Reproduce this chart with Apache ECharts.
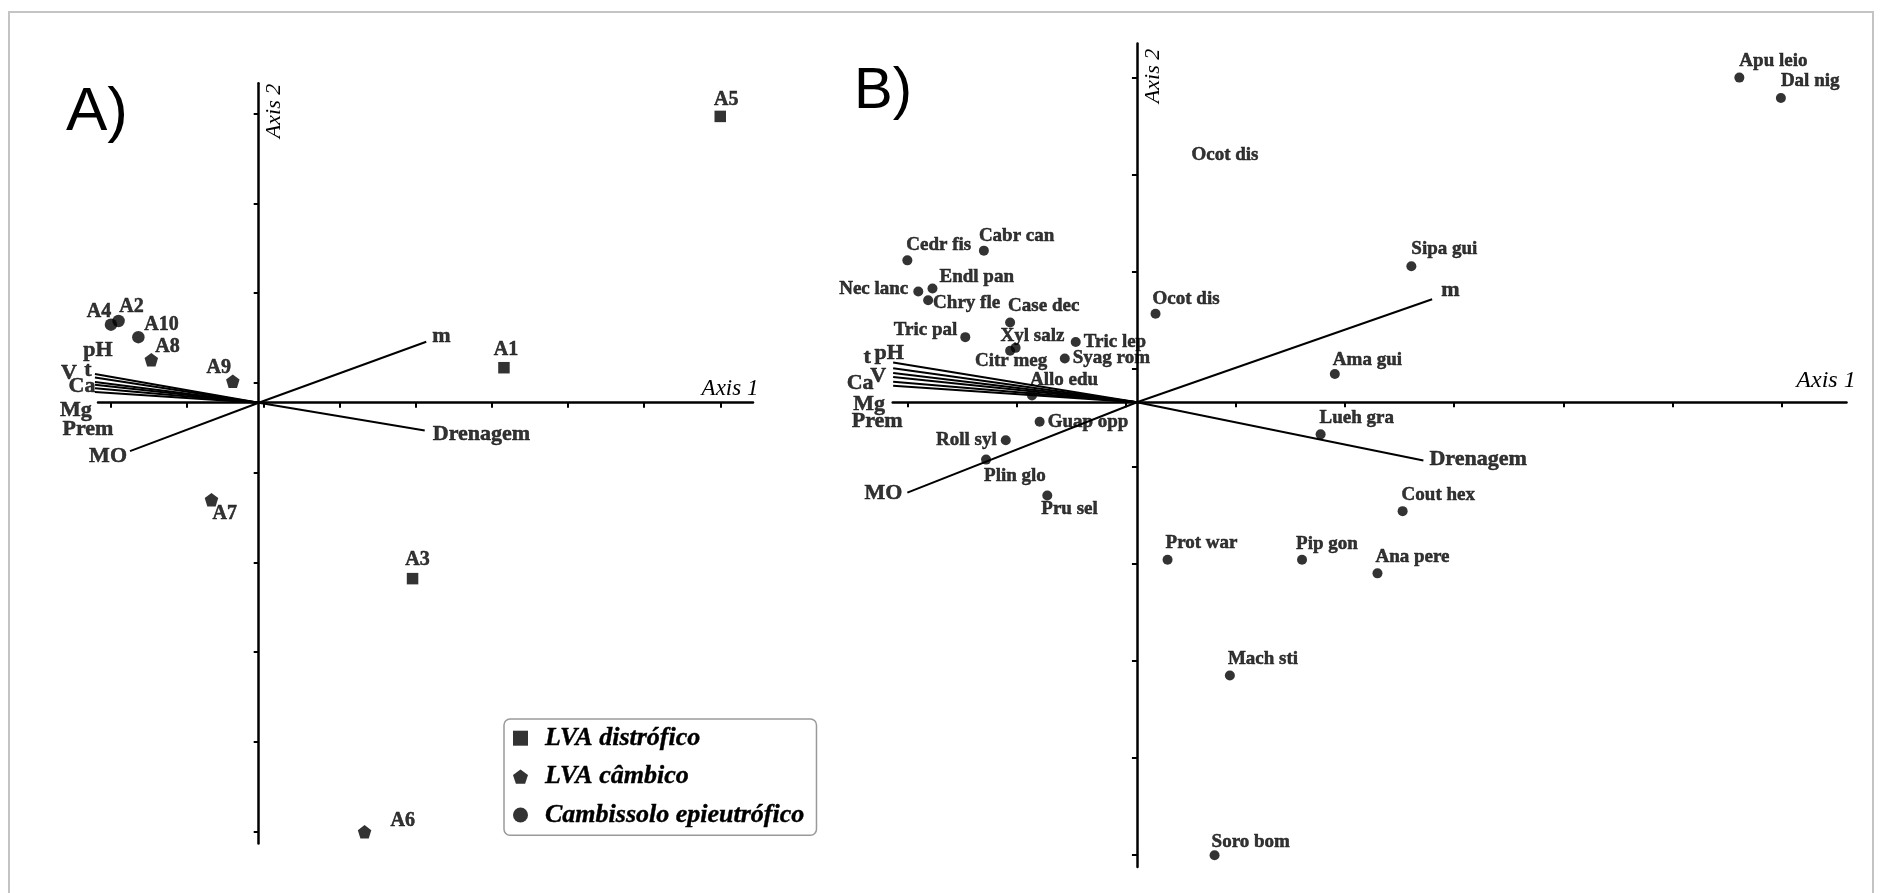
<!DOCTYPE html>
<html>
<head>
<meta charset="utf-8">
<script src="https://cdn.jsdelivr.net/npm/echarts@6/dist/echarts.min.js"></script>
<style>html,body{margin:0;padding:0;background:#fff}#c{width:1883px;height:893px}</style>
</head>
<body>
<div id="c"></div>
<script>
// ---------------- DATA ----------------
// Panel A: sample scores [name, Axis 1, Axis 2]
const samplesLVAdistrofico = [['A5', 6.06, 3.19], ['A1', 3.22, 0.39], ['A3', 2.02, -1.96]];
const samplesLVAcambico = [['A8', -1.41, 0.48], ['A9', -0.34, 0.24], ['A7', -0.62, -1.08], ['A6', 1.39, -4.78]];
const samplesCambissolo = [['A4', -1.94, 0.87], ['A2', -1.84, 0.91], ['A10', -1.58, 0.73]];
// Panel A: environmental vectors (arrow tips)
const envVectorsA = [['pH', -2.15, 0.32], ['t', -2.15, 0.28], ['V', -2.15, 0.23], ['Ca', -2.15, 0.20],
  ['Mg', -2.15, 0.16], ['Prem', -2.15, 0.12], ['MO', -1.69, -0.54], ['m', 2.20, 0.68], ['Drenagem', 2.18, -0.31]];
// Panel B: species scores
const species = [['Apu leio', 5.51, 3.34], ['Dal nig', 5.89, 3.13], ['Sipa gui', 2.51, 1.40],
  ['Cedr fis', -2.10, 1.46], ['Cabr can', -1.40, 1.56], ['Endl pan', -1.87, 1.17], ['Nec lanc', -2.00, 1.14],
  ['Chry fle', -1.91, 1.05], ['Case dec', -1.16, 0.82], ['Tric pal', -1.57, 0.67], ['Xyl salz', -1.11, 0.56],
  ['Citr meg', -1.16, 0.53], ['Tric lep', -0.56, 0.62], ['Syag rom', -0.66, 0.45], ['Allo edu', -0.96, 0.07],
  ['Ocot dis', 0.17, 0.91], ['Ama gui', 1.81, 0.29], ['Lueh gra', 1.68, -0.33], ['Guap opp', -0.89, -0.20],
  ['Roll syl', -1.20, -0.39], ['Plin glo', -1.38, -0.59], ['Pru sel', -0.82, -0.96], ['Prot war', 0.28, -1.62],
  ['Pip gon', 1.51, -1.62], ['Ana pere', 2.20, -1.76], ['Cout hex', 2.43, -1.12], ['Mach sti', 0.85, -2.81],
  ['Soro bom', 0.71, -4.66]];
const speciesLabelOnly = [['Ocot dis', 0.805, 2.54]];
// Panel B: environmental vectors
const envVectorsB = [['pH', -2.23, 0.41], ['t', -2.23, 0.35], ['V', -2.23, 0.30], ['Ca', -2.23, 0.26],
  ['Mg', -2.23, 0.21], ['Prem', -2.23, 0.17], ['MO', -2.10, -0.93], ['m', 2.70, 1.06], ['Drenagem', 2.62, -0.60]];
// Tick positions (no tick labels are printed)
const ticksAx = [-1.94, -0.94, 0.06, 1.06, 2.06, 3.06, 4.06, 5.06, 6.06];
const ticksAy = [-4.78, -3.78, -2.78, -1.78, -0.78, 0.22, 1.22, 2.22, 3.22];
const ticksBx = [-2.1, -1.1, -0.1, 0.9, 1.9, 2.9, 3.9, 4.9, 5.9];
const ticksBy = [-4.66, -3.66, -2.66, -1.66, -0.66, 0.34, 1.34, 2.34, 3.34];
const legendNames = ['LVA distrófico', 'LVA câmbico', 'Cambissolo epieutrófico'];

// ---------------- STYLE / LAYOUT ----------------
const INK = '#000';
const SERIF = 'Liberation Serif';
const pentagon = 'path://M0,-10 L9.51,-3.09 L5.88,8.09 L-5.88,8.09 L-9.51,-3.09 Z';
// label placement [dx, dy, align]
const labA = { A5: [6, -17, 'center'], A1: [2, -18, 'center'], A4: [-12, -13, 'center'], A2: [13, -14, 'center'],
  A10: [6, -12, 'left'], A8: [4, -13, 'left'], A9: [-14, -13, 'center'], A7: [1, 14, 'left'],
  A3: [5, -19, 'center'], A6: [26, -11, 'left'] };
const vecLabA = { pH: [3, -24, 'center'], t: [-7, -7, 'center'], V: [-26, -9, 'center'], Ca: [-13, 2, 'center'],
  Mg: [-19, 22, 'center'], Prem: [-7, 37, 'center'], MO: [-3, 5, 'right'], m: [6, -5, 'left'], Drenagem: [8, 4, 'left'] };
const vecLabB = { pH: [-4, -9, 'center'], t: [-26, -11, 'center'], V: [-15, 3, 'center'], Ca: [-33, 6, 'center'],
  Mg: [-24, 22, 'center'], Prem: [-16, 36, 'center'], MO: [-5, 1, 'right'], m: [9, -9, 'left'], Drenagem: [6, -1, 'left'] };
const labB = { 'Apu leio': [0, -17, 'left'], 'Dal nig': [0, -17, 'left'], 'Sipa gui': [0, -17, 'left'],
  'Cedr fis': [-1, -15, 'left'], 'Cabr can': [-5, -15, 'left'], 'Endl pan': [7, -11, 'left'], 'Nec lanc': [-10, -2, 'right'],
  'Chry fle': [5, 3, 'left'], 'Case dec': [-2, -16, 'left'], 'Tric pal': [-8, -7, 'right'], 'Xyl salz': [-15, -12, 'left'],
  'Citr meg': [1, 10, 'center'], 'Tric lep': [8, 0, 'left'], 'Syag rom': [8, 0, 'left'], 'Allo edu': [-2, -15, 'left'],
  'Ocot dis': [-3, -15, 'left'], 'Ama gui': [-2, -14, 'left'], 'Lueh gra': [-1, -16, 'left'], 'Guap opp': [8, 0, 'left'],
  'Roll syl': [-9, 0, 'right'], 'Plin glo': [-2, 16, 'left'], 'Pru sel': [-6, 14, 'left'], 'Prot war': [-2, -17, 'left'],
  'Pip gon': [-6, -16, 'left'], 'Ana pere': [-2, -16, 'left'], 'Cout hex': [-1, -16, 'left'], 'Mach sti': [-2, -16, 'left'],
  'Soro bom': [-3, -13, 'left'] };

function pts(arr, labMap, size) {
  return arr.map(d => {
    const l = labMap[d[0]] || [0, 0, 'center'];
    return { name: d[0], value: [d[1], d[2]],
      label: { offset: [l[0], l[1]], align: l[2], fontSize: size } };
  });
}
function vecLines(arr) { return arr.map(d => ({ coords: [[0, 0], [d[1], d[2]]] })); }

const labelBase = { show: true, position: 'inside', formatter: '{b}', color: INK,
  fontFamily: SERIF, fontWeight: 'bold', verticalAlign: 'middle',
  textBorderColor: INK, textBorderWidth: 0.5 };

function axisX(grid, min, max, ticks) {
  return { type: 'value', gridIndex: grid, min: min, max: max,
    axisLine: { show: true, onZero: true, lineStyle: { color: INK, width: 2.5 } },
    axisTick: { show: true, customValues: ticks, length: 5, lineStyle: { color: INK, width: 2 } },
    axisLabel: { show: false }, splitLine: { show: false } };
}
const axisY = axisX;

const chart = echarts.init(document.getElementById('c'));
chart.setOption({
  animation: false,
  backgroundColor: '#fff',
  textStyle: { fontFamily: SERIF },
  grid: [
    { left: 98, top: 83.2, width: 655, height: 760.2, outerBoundsMode: 'none' },
    { left: 892.7, top: 43.6, width: 953.8, height: 823.3, outerBoundsMode: 'none' }
  ],
  xAxis: [axisX(0, -2.11, 6.49, ticksAx), axisX(1, -2.234, 6.49, ticksBx)],
  yAxis: [axisY(0, -4.91, 3.56, ticksAy), axisY(1, -4.78, 3.69, ticksBy)],
  legend: {
    left: 504, top: 719, orient: 'vertical', selectedMode: false,
    itemWidth: 15, itemHeight: 15, itemGap: 12, padding: [6, 12, 7, 9],
    borderColor: '#9a9a9a', borderWidth: 1.5, borderRadius: 6, backgroundColor: '#fff',
    textStyle: { fontFamily: SERIF, fontStyle: 'italic', fontWeight: 'bold', fontSize: 26, color: INK,
      lineHeight: 26, padding: [0, 0, 0, 12], textBorderColor: INK, textBorderWidth: 0.4 },
    data: [{ name: legendNames[0], icon: 'rect' }, { name: legendNames[1], icon: pentagon },
      { name: legendNames[2], icon: 'circle' }]
  },
  series: [
    { type: 'lines', coordinateSystem: 'cartesian2d', xAxisIndex: 0, yAxisIndex: 0, silent: true, z: 3, clip: false,
      lineStyle: { color: INK, width: 2, opacity: 1 }, data: vecLines(envVectorsA) },
    { type: 'scatter', xAxisIndex: 0, yAxisIndex: 0, symbolSize: 0, silent: true, z: 4, clip: false,
      label: Object.assign({}, labelBase, { fontSize: 22 }), data: pts(envVectorsA, vecLabA, 22) },
    { name: legendNames[0], type: 'scatter', xAxisIndex: 0, yAxisIndex: 0, symbol: 'rect', symbolSize: 11.5, z: 5,
      clip: false, itemStyle: { color: INK }, label: Object.assign({}, labelBase, { fontSize: 20 }),
      data: pts(samplesLVAdistrofico, labA, 20) },
    { name: legendNames[1], type: 'scatter', xAxisIndex: 0, yAxisIndex: 0, symbol: pentagon, symbolSize: 13.5, z: 5,
      clip: false, itemStyle: { color: INK }, label: Object.assign({}, labelBase, { fontSize: 20 }),
      data: pts(samplesLVAcambico, labA, 20) },
    { name: legendNames[2], type: 'scatter', xAxisIndex: 0, yAxisIndex: 0, symbol: 'circle', symbolSize: 12.5, z: 5,
      clip: false, itemStyle: { color: INK }, label: Object.assign({}, labelBase, { fontSize: 20 }),
      data: pts(samplesCambissolo, labA, 20) },
    { type: 'lines', coordinateSystem: 'cartesian2d', xAxisIndex: 1, yAxisIndex: 1, silent: true, z: 3, clip: false,
      lineStyle: { color: INK, width: 2, opacity: 1 }, data: vecLines(envVectorsB) },
    { type: 'scatter', xAxisIndex: 1, yAxisIndex: 1, symbolSize: 0, silent: true, z: 4, clip: false,
      label: Object.assign({}, labelBase, { fontSize: 22 }), data: pts(envVectorsB, vecLabB, 22) },
    { type: 'scatter', xAxisIndex: 1, yAxisIndex: 1, symbol: 'circle', symbolSize: 10, z: 5, clip: false,
      itemStyle: { color: INK }, label: Object.assign({}, labelBase, { fontSize: 19 }),
      data: pts(species, labB, 19) },
    { type: 'scatter', xAxisIndex: 1, yAxisIndex: 1, symbolSize: 0, z: 5, clip: false,
      label: Object.assign({}, labelBase, { fontSize: 19 }), data: pts(speciesLabelOnly, {}, 19) }
  ],
  graphic: [
    { type: 'rect', shape: { x: 9, y: 12, width: 1864, height: 900 }, silent: true, z: -10,
      style: { fill: 'none', stroke: '#c4c4c4', lineWidth: 2 } },
    { type: 'text', x: 66, y: 113, style: { text: 'A)', fontFamily: 'Liberation Sans', fontSize: 62,
      fill: INK, align: 'left', verticalAlign: 'middle' } },
    { type: 'text', x: 854, y: 92, style: { text: 'B)', fontFamily: 'Liberation Sans', fontSize: 58,
      fill: INK, align: 'left', verticalAlign: 'middle' } },
    { type: 'text', x: 274, y: 111, rotation: Math.PI / 2, style: { text: 'Axis 2', fontFamily: SERIF,
      fontStyle: 'italic', fontSize: 22, fill: INK, align: 'center', verticalAlign: 'middle' } },
    { type: 'text', x: 1153, y: 76, rotation: Math.PI / 2, style: { text: 'Axis 2', fontFamily: SERIF,
      fontStyle: 'italic', fontSize: 22, fill: INK, align: 'center', verticalAlign: 'middle' } },
    { type: 'text', x: 730, y: 389, style: { text: 'Axis 1', fontFamily: SERIF,
      fontStyle: 'italic', fontSize: 23, fill: INK, align: 'center', verticalAlign: 'middle' } },
    { type: 'text', x: 1826, y: 381, style: { text: 'Axis 1', fontFamily: SERIF,
      fontStyle: 'italic', fontSize: 24, fill: INK, align: 'center', verticalAlign: 'middle' } }
  ]
});
</script>
</body>
</html>
